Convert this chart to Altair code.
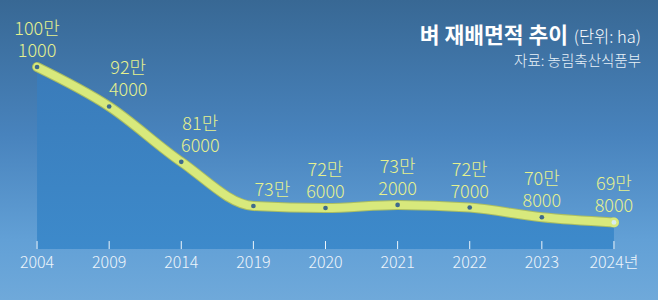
import altair as alt
import pandas as pd

years = ["2004", "2009", "2014", "2019", "2020", "2021", "2022", "2023", "2024"]
areas = [1001000, 924000, 816000, 730000, 726000, 732000, 727000, 708000, 698000]
shifted_years = ["2009", "2014", "2019"]  # labels nudged right of the line
baseline_value = 646000

df = pd.DataFrame({"year": years, "area": areas})
df["man"] = [f"{v // 10000}만" for v in areas]
df["rest"] = [str(v % 10000) if v % 10000 else "" for v in areas]
df["two"] = [1 if v % 10000 else 0 for v in areas]
df["shift"] = [1 if y in shifted_years else 0 for y in years]
df["base"] = baseline_value

FONT = "Noto Sans CJK KR"
LINE = "#d8e97c"
LABEL = "#e6f18e"

# point scale keeps half a step of outer padding: first/last points land at 37 / 614
xs = alt.X("year:O", scale=alt.Scale(range=[1, 650]),
           axis=alt.Axis(title=None, domain=False, ticks=False, grid=False,
                         labelAngle=0, labelFont=FONT, labelFontSize=16,
                         labelFontWeight=300, labelColor="#eef5fb",
                         labelPadding=5, offset=-51, zindex=2,
                         labelExpr="datum.label == '2024' ? '2024년' : datum.label"))
yscale = alt.Scale(domain=[546650, 1131650], zero=False, nice=False)
ys = alt.Y("area:Q", scale=yscale, axis=None)

bg = alt.Chart(pd.DataFrame({"a": [0]})).mark_rect(
    color=alt.Gradient(gradient="linear", x1=0, y1=0, x2=0, y2=1,
                       stops=[alt.GradientStop(offset=0, color="#386894"),
                              alt.GradientStop(offset=0.45, color="#4883bd"),
                              alt.GradientStop(offset=0.8, color="#62a0d6"),
                              alt.GradientStop(offset=1, color="#6fa9da")])
).encode(x=alt.value(0), x2=alt.value(658), y=alt.value(0), y2=alt.value(300))

base = alt.Chart(df)

area = base.mark_area(
    interpolate="monotone",
    color=alt.Gradient(gradient="linear", x1=0, y1=0, x2=0, y2=1,
                       stops=[alt.GradientStop(offset=0, color="#3a7bb9"),
                              alt.GradientStop(offset=1, color="#3d8acb")])
).encode(x=xs, y=ys, y2="base:Q")

ticks = base.mark_rule(color="#eef5fb", strokeWidth=1, y2Offset=-8).encode(
    x=xs, y=alt.Y("base:Q", scale=yscale, axis=None), y2="base:Q")

line_edge = base.mark_line(interpolate="monotone", color="#aabd62",
                           strokeWidth=10, strokeCap="round", strokeJoin="round").encode(x=xs, y=ys)
line = base.mark_line(interpolate="monotone", color=LINE,
                      strokeWidth=8, strokeCap="round", strokeJoin="round").encode(x=xs, y=ys)

pts = base.transform_filter("datum.year != '2024'").mark_circle(
    color="#3f6a8c", opacity=1, size=22).encode(x=xs, y=ys)
last = base.transform_filter("datum.year == '2024'").mark_circle(
    fill="#d9ecef", stroke=LINE, strokeWidth=2.5, size=55, opacity=1).encode(x=xs, y=ys)


def label_layer(field, filt, dy, dx):
    return base.transform_filter(filt).mark_text(
        font=FONT, fontSize=18, fontWeight=300, color=LABEL,
        align="center", baseline="alphabetic", dy=dy, dx=dx
    ).encode(x=xs, y=ys, text=f"{field}:N")


labels = []
for s, dx in [(0, 0), (1, 19)]:
    labels.append(label_layer("rest", f"datum.shift == {s} && datum.two == 1", -10, dx))
    labels.append(label_layer("man", f"datum.shift == {s} && datum.two == 1", -32, dx))
    labels.append(label_layer("man", f"datum.shift == {s} && datum.two == 0", -10, dx))

ann = pd.DataFrame({"a": [0]})
t1 = alt.Chart(ann).mark_text(text="벼 재배면적 추이", font=FONT, fontSize=21.5, fontWeight="bold",
                              color="#ffffff", align="right", baseline="alphabetic").encode(
    x=alt.value(568), y=alt.value(43))
t2 = alt.Chart(ann).mark_text(text="(단위: ha)", font=FONT, fontSize=16.5, fontWeight=300,
                              color="#ffffff", align="right", baseline="alphabetic").encode(
    x=alt.value(641), y=alt.value(43))
t3 = alt.Chart(ann).mark_text(text="자료: 농림축산식품부", font=FONT, fontSize=14.5, fontWeight=300,
                              color="#e8f1f8", align="right", baseline="alphabetic").encode(
    x=alt.value(641), y=alt.value(66))

chart = alt.layer(bg, area, ticks, line_edge, line, pts, last, *labels, t1, t2, t3).properties(
    width=658, height=300, padding=0, autosize=alt.AutoSizeParams(type="none")
).configure_view(stroke=None)

chart.save("out.html", embed_options={"renderer": "svg", "actions": False})
